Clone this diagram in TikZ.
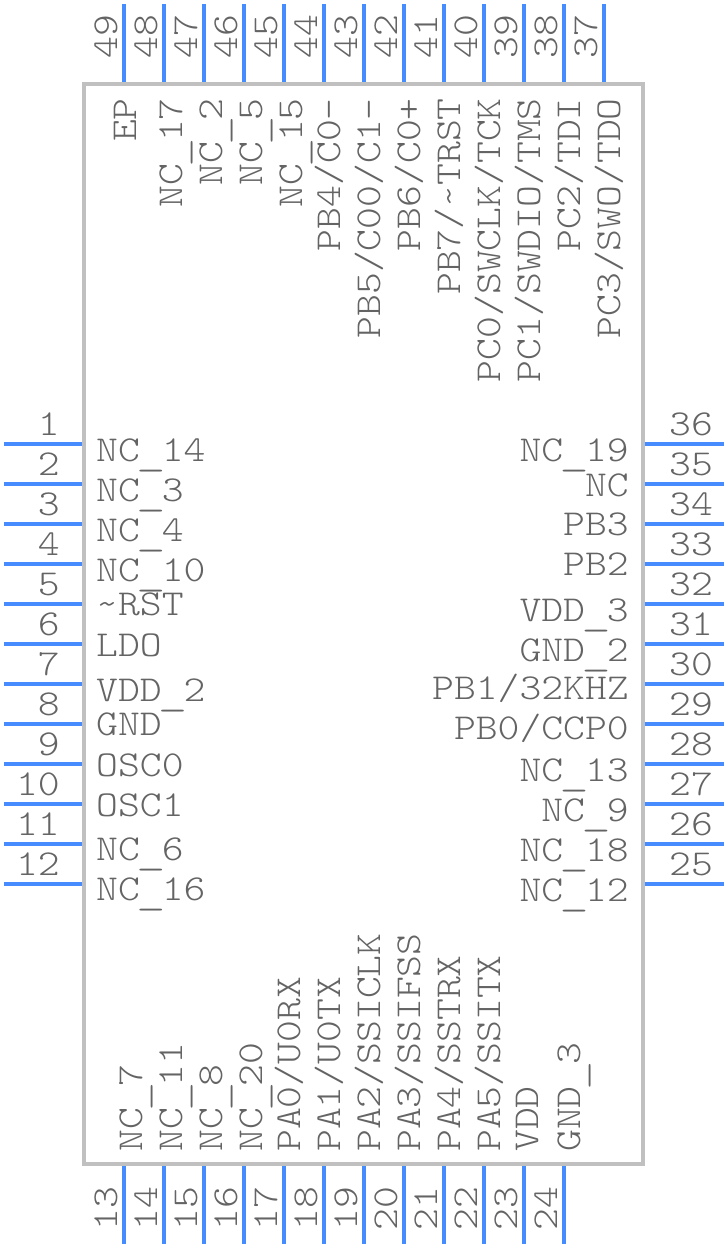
\documentclass[tikz,border=0pt]{standalone}
\usepackage{tikz}
\definecolor{pinblue}{RGB}{70,140,255}
\definecolor{bodygray}{RGB}{192,192,192}
\definecolor{textgray}{RGB}{100,100,100}
\newcommand{\pinfont}{\fontsize{36.5}{36.5}\fontfamily{lmtt}\fontseries{l}\selectfont}
\newcommand{\us}{\raisebox{-4pt}{\makebox[0.525em]{\scalebox{1.35}[1]{\_}}}}
\tikzstyle{body}=[draw=bodygray,line width=4pt]
\tikzstyle{pin}=[draw=pinblue,line width=4pt]
\tikzstyle{txt}=[inner sep=0pt,text=textgray,font=\pinfont,xscale=1.14]
\tikzstyle{Ltxt}=[txt,anchor=base west]
\tikzstyle{Rtxt}=[txt,anchor=base east]
\tikzstyle{Utxt}=[rotate=90,txt,anchor=base east]
\tikzstyle{Dtxt}=[rotate=90,txt,anchor=base west]

\begin{document}
\begin{tikzpicture}[x=1pt,y=-1pt]
    \useasboundingbox (0,0) rectangle (728,1248);
    \coordinate (c1) at (84,84);
    \coordinate (c2) at (643,1164);
    \draw[body] (c1) rectangle (c2);
    % left side
    \coordinate (a1) at (4,444);    \coordinate (b1) at (82,444);   \draw[pin] (a1) -- (b1);
    \coordinate (a2) at (4,484);    \coordinate (b2) at (82,484);   \draw[pin] (a2) -- (b2);
    \coordinate (a3) at (4,524);    \coordinate (b3) at (82,524);   \draw[pin] (a3) -- (b3);
    \coordinate (a4) at (4,564);    \coordinate (b4) at (82,564);   \draw[pin] (a4) -- (b4);
    \coordinate (a5) at (4,604);    \coordinate (b5) at (82,604);   \draw[pin] (a5) -- (b5);
    \coordinate (a6) at (4,644);    \coordinate (b6) at (82,644);   \draw[pin] (a6) -- (b6);
    \coordinate (a7) at (4,684);    \coordinate (b7) at (82,684);   \draw[pin] (a7) -- (b7);
    \coordinate (a8) at (4,724);    \coordinate (b8) at (82,724);   \draw[pin] (a8) -- (b8);
    \coordinate (a9) at (4,764);    \coordinate (b9) at (82,764);   \draw[pin] (a9) -- (b9);
    \coordinate (a10) at (4,804);   \coordinate (b10) at (82,804);  \draw[pin] (a10) -- (b10);
    \coordinate (a11) at (4,844);   \coordinate (b11) at (82,844);  \draw[pin] (a11) -- (b11);
    \coordinate (a12) at (4,884);   \coordinate (b12) at (82,884);  \draw[pin] (a12) -- (b12);
    \node[Rtxt] (n1) at (60,435)  {1};   \node[Ltxt] (l1) at (96,461)  {NC\us 14};
    \node[Rtxt] (n2) at (60,475)  {2};   \node[Ltxt] (l2) at (96,501)  {NC\us 3};
    \node[Rtxt] (n3) at (60,515)  {3};   \node[Ltxt] (l3) at (96,541)  {NC\us 4};
    \node[Rtxt] (n4) at (60,555)  {4};   \node[Ltxt] (l4) at (96,581)  {NC\us 10};
    \node[Rtxt] (n5) at (60,595)  {5};   \node[Ltxt] (l5) at (96,615)  {\textasciitilde RST};
    \node[Rtxt] (n6) at (60,635)  {6};   \node[Ltxt] (l6) at (96,656)  {LDO};
    \node[Rtxt] (n7) at (60,675)  {7};   \node[Ltxt] (l7) at (96,701)  {VDD\us 2};
    \node[Rtxt] (n8) at (60,715)  {8};   \node[Ltxt] (l8) at (96,735)  {GND};
    \node[Rtxt] (n9) at (60,755)  {9};   \node[Ltxt] (l9) at (96,776)  {OSC0};
    \node[Rtxt] (n10) at (60,795) {10};  \node[Ltxt] (l10) at (96,816) {OSC1};
    \node[Rtxt] (n11) at (60,835) {11};  \node[Ltxt] (l11) at (96,860) {NC\us 6};
    \node[Rtxt] (n12) at (60,875) {12};  \node[Ltxt] (l12) at (96,900) {NC\us 16};
    % bottom side
    \coordinate (a13) at (124,1166);  \coordinate (b13) at (124,1244);  \draw[pin] (a13) -- (b13);
    \coordinate (a14) at (164,1166);  \coordinate (b14) at (164,1244);  \draw[pin] (a14) -- (b14);
    \coordinate (a15) at (204,1166);  \coordinate (b15) at (204,1244);  \draw[pin] (a15) -- (b15);
    \coordinate (a16) at (244,1166);  \coordinate (b16) at (244,1244);  \draw[pin] (a16) -- (b16);
    \coordinate (a17) at (284,1166);  \coordinate (b17) at (284,1244);  \draw[pin] (a17) -- (b17);
    \coordinate (a18) at (324,1166);  \coordinate (b18) at (324,1244);  \draw[pin] (a18) -- (b18);
    \coordinate (a19) at (364,1166);  \coordinate (b19) at (364,1244);  \draw[pin] (a19) -- (b19);
    \coordinate (a20) at (404,1166);  \coordinate (b20) at (404,1244);  \draw[pin] (a20) -- (b20);
    \coordinate (a21) at (444,1166);  \coordinate (b21) at (444,1244);  \draw[pin] (a21) -- (b21);
    \coordinate (a22) at (484,1166);  \coordinate (b22) at (484,1244);  \draw[pin] (a22) -- (b22);
    \coordinate (a23) at (524,1166);  \coordinate (b23) at (524,1244);  \draw[pin] (a23) -- (b23);
    \coordinate (a24) at (564,1166);  \coordinate (b24) at (564,1244);  \draw[pin] (a24) -- (b24);
    \node[Dtxt] (n13) at (117,1231) {13};  \node[Dtxt] (l13) at (142,1152) {NC\us 7};
    \node[Dtxt] (n14) at (157,1231) {14};  \node[Dtxt] (l14) at (182,1152) {NC\us 11};
    \node[Dtxt] (n15) at (197,1231) {15};  \node[Dtxt] (l15) at (222,1152) {NC\us 8};
    \node[Dtxt] (n16) at (237,1231) {16};  \node[Dtxt] (l16) at (262,1152) {NC\us 20};
    \node[Dtxt] (n17) at (277,1231) {17};  \node[Dtxt] (l17) at (300,1152) {PA0/U0RX};
    \node[Dtxt] (n18) at (317,1231) {18};  \node[Dtxt] (l18) at (340,1152) {PA1/U0TX};
    \node[Dtxt] (n19) at (357,1231) {19};  \node[Dtxt] (l19) at (380,1152) {PA2/SSICLK};
    \node[Dtxt] (n20) at (397,1231) {20};  \node[Dtxt] (l20) at (420,1152) {PA3/SSIFSS};
    \node[Dtxt] (n21) at (437,1231) {21};  \node[Dtxt] (l21) at (460,1152) {PA4/SSTRX};
    \node[Dtxt] (n22) at (477,1231) {22};  \node[Dtxt] (l22) at (500,1152) {PA5/SSITX};
    \node[Dtxt] (n23) at (517,1231) {23};  \node[Dtxt] (l23) at (538,1152) {VDD};
    \node[Dtxt] (n24) at (557,1231) {24};  \node[Dtxt] (l24) at (580,1152) {GND\us 3};
    % right side
    \coordinate (a25) at (645,884);  \coordinate (b25) at (724,884);  \draw[pin] (a25) -- (b25);
    \coordinate (a26) at (645,844);  \coordinate (b26) at (724,844);  \draw[pin] (a26) -- (b26);
    \coordinate (a27) at (645,804);  \coordinate (b27) at (724,804);  \draw[pin] (a27) -- (b27);
    \coordinate (a28) at (645,764);  \coordinate (b28) at (724,764);  \draw[pin] (a28) -- (b28);
    \coordinate (a29) at (645,724);  \coordinate (b29) at (724,724);  \draw[pin] (a29) -- (b29);
    \coordinate (a30) at (645,684);  \coordinate (b30) at (724,684);  \draw[pin] (a30) -- (b30);
    \coordinate (a31) at (645,644);  \coordinate (b31) at (724,644);  \draw[pin] (a31) -- (b31);
    \coordinate (a32) at (645,604);  \coordinate (b32) at (724,604);  \draw[pin] (a32) -- (b32);
    \coordinate (a33) at (645,564);  \coordinate (b33) at (724,564);  \draw[pin] (a33) -- (b33);
    \coordinate (a34) at (645,524);  \coordinate (b34) at (724,524);  \draw[pin] (a34) -- (b34);
    \coordinate (a35) at (645,484);  \coordinate (b35) at (724,484);  \draw[pin] (a35) -- (b35);
    \coordinate (a36) at (645,444);  \coordinate (b36) at (724,444);  \draw[pin] (a36) -- (b36);
    \node[Ltxt] (n25) at (669,875) {25};  \node[Rtxt] (l25) at (629,901) {NC\us 12};
    \node[Ltxt] (n26) at (669,835) {26};  \node[Rtxt] (l26) at (629,861) {NC\us 18};
    \node[Ltxt] (n27) at (669,795) {27};  \node[Rtxt] (l27) at (629,821) {NC\us 9};
    \node[Ltxt] (n28) at (669,755) {28};  \node[Rtxt] (l28) at (629,781) {NC\us 13};
    \node[Ltxt] (n29) at (669,715) {29};  \node[Rtxt] (l29) at (629,739) {PB0/CCP0};
    \node[Ltxt] (n30) at (669,675) {30};  \node[Rtxt] (l30) at (629,699) {PB1/32KHZ};
    \node[Ltxt] (n31) at (669,635) {31};  \node[Rtxt] (l31) at (629,661) {GND\us 2};
    \node[Ltxt] (n32) at (669,595) {32};  \node[Rtxt] (l32) at (629,621) {VDD\us 3};
    \node[Ltxt] (n33) at (669,555) {33};  \node[Rtxt] (l33) at (629,575) {PB2};
    \node[Ltxt] (n34) at (669,515) {34};  \node[Rtxt] (l34) at (629,535) {PB3};
    \node[Ltxt] (n35) at (669,475) {35};  \node[Rtxt] (l35) at (629,496) {NC};
    \node[Ltxt] (n36) at (669,435) {36};  \node[Rtxt] (l36) at (629,461) {NC\us 19};
    % top side
    \coordinate (a37) at (604,4);  \coordinate (b37) at (604,82);  \draw[pin] (a37) -- (b37);
    \coordinate (a38) at (564,4);  \coordinate (b38) at (564,82);  \draw[pin] (a38) -- (b38);
    \coordinate (a39) at (524,4);  \coordinate (b39) at (524,82);  \draw[pin] (a39) -- (b39);
    \coordinate (a40) at (484,4);  \coordinate (b40) at (484,82);  \draw[pin] (a40) -- (b40);
    \coordinate (a41) at (444,4);  \coordinate (b41) at (444,82);  \draw[pin] (a41) -- (b41);
    \coordinate (a42) at (404,4);  \coordinate (b42) at (404,82);  \draw[pin] (a42) -- (b42);
    \coordinate (a43) at (364,4);  \coordinate (b43) at (364,82);  \draw[pin] (a43) -- (b43);
    \coordinate (a44) at (324,4);  \coordinate (b44) at (324,82);  \draw[pin] (a44) -- (b44);
    \coordinate (a45) at (284,4);  \coordinate (b45) at (284,82);  \draw[pin] (a45) -- (b45);
    \coordinate (a46) at (244,4);  \coordinate (b46) at (244,82);  \draw[pin] (a46) -- (b46);
    \coordinate (a47) at (204,4);  \coordinate (b47) at (204,82);  \draw[pin] (a47) -- (b47);
    \coordinate (a48) at (164,4);  \coordinate (b48) at (164,82);  \draw[pin] (a48) -- (b48);
    \coordinate (a49) at (124,4);  \coordinate (b49) at (124,82);  \draw[pin] (a49) -- (b49);
    \node[Dtxt] (n37) at (597,59) {37};  \node[Utxt] (l37) at (620,98) {PC3/SWO/TDO};
    \node[Dtxt] (n38) at (557,59) {38};  \node[Utxt] (l38) at (580,98) {PC2/TDI};
    \node[Dtxt] (n39) at (517,59) {39};  \node[Utxt] (l39) at (540,98) {PC1/SWDIO/TMS};
    \node[Dtxt] (n40) at (477,59) {40};  \node[Utxt] (l40) at (500,98) {PC0/SWCLK/TCK};
    \node[Dtxt] (n41) at (437,59) {41};  \node[Utxt] (l41) at (460,98) {PB7/\textasciitilde TRST};
    \node[Dtxt] (n42) at (397,59) {42};  \node[Utxt] (l42) at (420,98) {PB6/C0+};
    \node[Dtxt] (n43) at (357,59) {43};  \node[Utxt] (l43) at (380,98) {PB5/C00/C1-};
    \node[Dtxt] (n44) at (317,59) {44};  \node[Utxt] (l44) at (340,98) {PB4/C0-};
    \node[Dtxt] (n45) at (277,59) {45};  \node[Utxt] (l45) at (302,98) {NC\us 15};
    \node[Dtxt] (n46) at (237,59) {46};  \node[Utxt] (l46) at (262,98) {NC\us 5};
    \node[Dtxt] (n47) at (197,59) {47};  \node[Utxt] (l47) at (222,98) {NC\us 2};
    \node[Dtxt] (n48) at (157,59) {48};  \node[Utxt] (l48) at (182,98) {NC\us 17};
    \node[Dtxt] (n49) at (117,59) {49};  \node[Utxt] (l49) at (136,98) {EP};
\end{tikzpicture}
\end{document}
